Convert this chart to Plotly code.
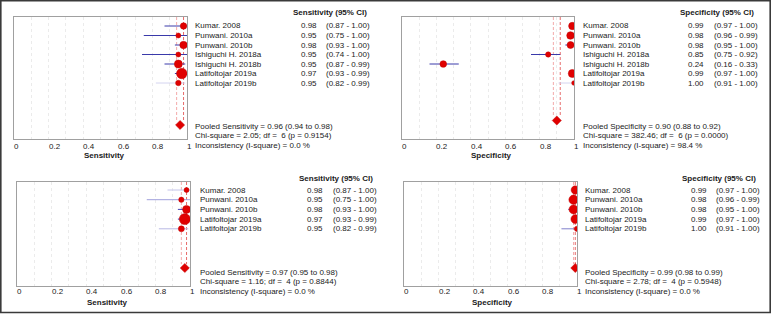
import plotly.graph_objects as go

# ---------------- data ----------------
studies_all = ["Kumar. 2008", "Punwani. 2010a", "Punwani. 2010b", "Ishiguchi H. 2018a",
               "Ishiguchi H. 2018b", "Latifoltojar 2019a", "Latifoltojar 2019b"]
sens_all = [0.98, 0.95, 0.98, 0.95, 0.95, 0.97, 0.95]
sens_all_lo = [0.87, 0.75, 0.93, 0.74, 0.87, 0.93, 0.82]
sens_all_hi = [1.00, 1.00, 1.00, 1.00, 0.99, 0.99, 0.99]
spec_all = [0.99, 0.98, 0.98, 0.85, 0.24, 0.99, 1.00]
spec_all_lo = [0.97, 0.96, 0.95, 0.75, 0.16, 0.97, 0.91]
spec_all_hi = [1.00, 0.99, 1.00, 0.92, 0.33, 1.00, 1.00]

studies_sub = ["Kumar. 2008", "Punwani. 2010a", "Punwani. 2010b",
               "Latifoltojar 2019a", "Latifoltojar 2019b"]
sens_sub = [0.98, 0.95, 0.98, 0.97, 0.95]
sens_sub_lo = [0.87, 0.75, 0.93, 0.93, 0.82]
sens_sub_hi = [1.00, 1.00, 1.00, 0.99, 0.99]
spec_sub = [0.99, 0.98, 0.98, 0.99, 1.00]
spec_sub_lo = [0.97, 0.96, 0.95, 0.97, 0.91]
spec_sub_hi = [1.00, 0.99, 1.00, 1.00, 1.00]

# pooled: estimate, lo, hi, chi-square, df, p, I-square
pooled_sens_all = [0.96, 0.94, 0.98, 2.05, 6, 0.9154, 0.0]
pooled_spec_all = [0.90, 0.88, 0.92, 382.46, 6, 0.0000, 98.4]
pooled_sens_sub = [0.97, 0.95, 0.98, 1.16, 4, 0.8844, 0.0]
pooled_spec_sub = [0.99, 0.98, 0.99, 2.78, 4, 0.5948, 0.0]

tick_values = [0, 0.2, 0.4, 0.6, 0.8, 1]
tick_labels = ["0", "0.2", "0.4", "0.6", "0.8", "1"]

# ---------------- layout / style ----------------
W, H = 771, 314
FONT = "Liberation Sans, Arial, sans-serif"
TXT = "#1a1a1a"
CI_DARK = "#3a3aaa"


def px(x):
    return x / W


def py(y):
    return 1 - y / H


panels = [
    dict(name="Sensitivity", studies=studies_all, est=sens_all, lo=sens_all_lo, hi=sens_all_hi,
         pooled=pooled_sens_all, box=(14, 187, 17, 139), row0=26, step=9.5, diam=125,
         label_x=194, val_r=318, ci_l=325, head_c=330, head_y=13,
         stats_x=194, stats_y=[126, 135.5, 145.3], tick_y=146, title_x=105, title_y=155,
         sizes=[6.5, 5, 7.5, 5, 8, 10.5, 5.5],
         cicol=[CI_DARK, CI_DARK, CI_DARK, CI_DARK, CI_DARK, CI_DARK, "#d4d4f0"]),
    dict(name="Specificity", studies=studies_all, est=spec_all, lo=spec_all_lo, hi=spec_all_hi,
         pooled=pooled_spec_all, box=(402, 574, 17, 139), row0=26, step=9.5, diam=120.5,
         label_x=582, val_r=705, ci_l=713, head_c=716.5, head_y=13,
         stats_x=582, stats_y=[126, 135, 145.3], tick_y=146, title_x=492, title_y=155,
         sizes=[7.3, 7.7, 7, 5.3, 6.7, 8, 4.7],
         cicol=[CI_DARK, CI_DARK, CI_DARK, CI_DARK, CI_DARK, CI_DARK, "#d4d4f0"]),
    dict(name="Sensitivity", studies=studies_sub, est=sens_sub, lo=sens_sub_lo, hi=sens_sub_hi,
         pooled=pooled_sens_sub, box=(17, 190, 182, 286), row0=190, step=9.7, diam=268,
         label_x=199, val_r=324, ci_l=332, head_c=336, head_y=178,
         stats_x=199, stats_y=[272.3, 281.7, 291.7], tick_y=291.5, title_x=107.5, title_y=302,
         sizes=[5, 5.3, 8, 11, 6],
         cicol=["#c4c4ea", "#a0a0dc", "#4444b4", CI_DARK, "#b8b8e4"]),
    dict(name="Specificity", studies=studies_sub, est=spec_sub, lo=spec_sub_lo, hi=spec_sub_hi,
         pooled=pooled_spec_sub, box=(404, 577, 182, 286), row0=190, step=9.7, diam=268,
         label_x=584, val_r=708, ci_l=715, head_c=718.5, head_y=178.5,
         stats_x=584, stats_y=[272.3, 281.7, 291], tick_y=291, title_x=492.5, title_y=302,
         sizes=[8.3, 9.3, 9, 8.7, 5.3],
         cicol=[CI_DARK, CI_DARK, CI_DARK, CI_DARK, "#8080cc"]),
]

fig = go.Figure()
annotations = []
layout_axes = {}


def ann(text, x, y, xanchor="left", size=8, bold=False, xref="paper", yref="paper", xshift=0):
    if bold:
        text = "<b>" + text + "</b>"
    annotations.append(dict(text=text, x=x, y=y, xref=xref, yref=yref, xanchor=xanchor,
                            yanchor="middle", showarrow=False, borderpad=0, xshift=xshift,
                            font=dict(family=FONT, size=size, color=TXT)))


for k, p in enumerate(panels, start=1):
    xa = "x" if k == 1 else f"x{k}"
    ya = "y" if k == 1 else f"y{k}"
    x0, x1, y0, y1 = p["box"]
    top_row = (y0 - p["row0"]) / p["step"]
    bot_row = (y1 - p["row0"]) / p["step"]
    pooled_row = (p["diam"] - p["row0"]) / p["step"]
    rows = list(range(len(p["studies"])))

    layout_axes[f"xaxis{'' if k == 1 else k}"] = dict(
        domain=[px(x0), px(x1)], range=[0, 1], anchor=ya,
        tickvals=[i / 10 for i in range(11)], showticklabels=False, ticks="",
        showgrid=True, gridcolor="#ebebeb", griddash="dot", gridwidth=1,
        showline=True, mirror=True, linecolor="#a0a0a0", linewidth=1, zeroline=False)
    layout_axes[f"yaxis{'' if k == 1 else k}"] = dict(
        domain=[py(y1), py(y0)], range=[bot_row, top_row], anchor=xa,
        showticklabels=False, ticks="", showgrid=False, zeroline=False,
        showline=True, mirror=True, linecolor="#a0a0a0", linewidth=1)

    est, lo, hi = p["est"], p["lo"], p["hi"]
    pe, plo, phi, chi, df, pv, i2 = p["pooled"]

    # pooled CI reference lines
    for v, col in ((plo, "rgba(240,150,150,0.8)"), (phi, "rgba(225,70,70,0.8)")):
        fig.add_trace(go.Scatter(x=[v, v], y=[top_row, pooled_row - 0.4], mode="lines",
                                 line=dict(color=col, width=1, dash="3px,2px"),
                                 xaxis=xa, yaxis=ya, hoverinfo="skip", showlegend=False))

    # CI lines
    for i in rows:
        fig.add_trace(go.Scatter(x=[lo[i], hi[i]], y=[i, i], mode="lines",
                                 line=dict(color=p["cicol"][i], width=1),
                                 xaxis=xa, yaxis=ya, hoverinfo="skip", showlegend=False))
    # point estimates
    fig.add_trace(go.Scatter(x=est, y=rows, mode="markers",
                             marker=dict(color="#e00000", size=p["sizes"], opacity=1,
                                         line=dict(color="#c00000", width=0.5)),
                             xaxis=xa, yaxis=ya, showlegend=False))
    # pooled diamond
    fig.add_trace(go.Scatter(x=[pe], y=[pooled_row], mode="markers",
                             marker=dict(color="#e00000", symbol="diamond", size=7, opacity=1,
                                         line=dict(color="#c00000", width=0.5)),
                             xaxis=xa, yaxis=ya, showlegend=False))

    # texts
    yref = ya
    ann(f"{p['name']} (95% CI)", px(p["head_c"]), py(p["head_y"]), xanchor="center", bold=True)
    for i in rows:
        ann(p["studies"][i], px(p["label_x"]), i, yref=yref)
        ann(f"{est[i]:.2f}", px(p["val_r"]), i, xanchor="right", yref=yref)
        ann(f"({lo[i]:.2f} - {hi[i]:.2f})", px(p["ci_l"]), i, yref=yref)
    lines = [f"Pooled {p['name']} = {pe:.2f} ({plo:.2f} to {phi:.2f})",
             f"Chi-square = {chi:.2f}; df =\u00a0 {df} (p = {pv:.4f})",
             f"Inconsistency (I-square) = {i2:.1f} %"]
    for t, yy in zip(lines, p["stats_y"]):
        ann(t, px(p["stats_x"]), py(yy))
    for v, t in zip(tick_values, tick_labels):
        ann(t, v, py(p["tick_y"]), xref=xa, xshift=-1)
    ann(p["name"], px(p["title_x"]), py(p["title_y"]), xanchor="center", bold=True)

fig.update_layout(
    width=W, height=H, margin=dict(l=0, r=0, t=0, b=0),
    paper_bgcolor="white", plot_bgcolor="white",
    annotations=annotations,
    shapes=[dict(type="rect", xref="paper", yref="paper", x0=px(0.8), x1=px(770.2),
                 y0=py(312.5), y1=py(0.8), line=dict(color="#3a3a3a", width=1.6))],
    **layout_axes,
)

fig.write_html("out.html", config={"displayModeBar": False},
               post_script="document.body.style.margin='0px';"
               "document.body.style.padding='0px';")
